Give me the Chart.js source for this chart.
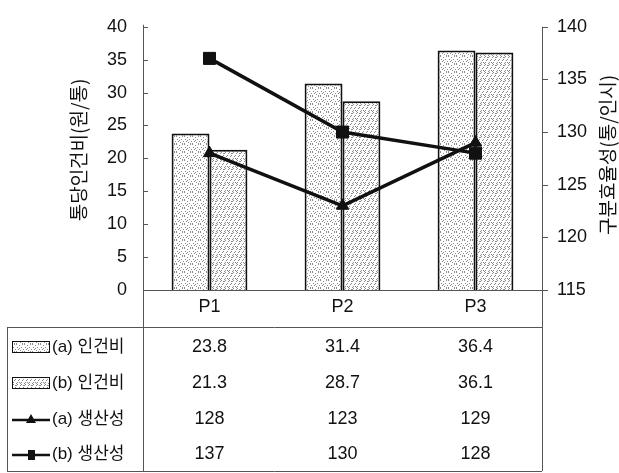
<!DOCTYPE html>
<html>
<head>
<meta charset="utf-8">
<script src="https://cdn.jsdelivr.net/npm/chart.js@4.4.0/dist/chart.umd.min.js"></script>
<style>
  html, body { margin: 0; padding: 0; background: #fff; }
  #wrap { width: 619px; height: 473px; position: relative; }
</style>
</head>
<body>
<div id="wrap"><canvas id="c" width="619" height="473"></canvas></div>
<script>
// ---- data ----
const categories = ['P1', 'P2', 'P3'];
const costA = [23.8, 31.4, 36.4];
const costB = [21.3, 28.7, 36.1];
const prodA = [128, 123, 129];
const prodB = [137, 130, 128];
const seriesLabels = ['(a) 인건비', '(b) 인건비', '(a) 생산성', '(b) 생산성'];
const leftTitle = '통당인건비(원/통)';
const rightTitle = '구분효율성(통/인시)';
const leftRange = [0, 40, 5];
const rightRange = [115, 140, 5];

// ---- fill patterns (deterministic stipple textures) ----
function makePattern(kind) {
  const t = document.createElement('canvas');
  t.width = 8; t.height = 8;
  const g = t.getContext('2d');
  g.fillStyle = '#ffffff';
  g.fillRect(0, 0, 8, 8);
  g.fillStyle = '#8a8a8a';
  let pts;
  if (kind === 'a') {
    pts = [[0,0],[3,1],[6,0],[1,3],[5,3],[2,5],[7,5],[4,6],[0,7],[6,7],[3,4]];
  } else {
    pts = [[1,0],[0,1],[5,0],[4,1],[3,3],[2,4],[7,3],[6,4],[1,6],[0,7],[5,6],[4,7],[7,1],[3,6]];
  }
  pts.forEach(p => g.fillRect(p[0], p[1], 1, 1));
  return g.createPattern(t, 'repeat');
}
const cvs = document.getElementById('c');
const patA = makePattern('a');
const patB = makePattern('b');

const TXT = '#111';
const FONT_NUM = '"Liberation Sans", Arial, sans-serif';
const FONT_KR = '"Liberation Sans", "Noto Sans CJK KR", sans-serif';
const NUM_SIZE = 18;

const tablePlugin = {
  id: 'tablePlugin',
  afterDraw(chart) {
    const ctx = chart.ctx;
    const ca = chart.chartArea;
    const xs = chart.scales.x;
    const yl = chart.scales.y;
    const yr = chart.scales.y2;
    const tableTop = 327, tableBottom = 471, tableLeft = 7;
    ctx.save();
    // frame lines
    ctx.strokeStyle = '#555';
    ctx.lineWidth = 1;
    ctx.beginPath();
    ctx.moveTo(ca.left + 0.5, ca.top - 2); ctx.lineTo(ca.left + 0.5, tableBottom);
    ctx.moveTo(ca.right + 0.5, ca.top); ctx.lineTo(ca.right + 0.5, tableBottom);
    ctx.moveTo(ca.left, ca.bottom + 0.5); ctx.lineTo(ca.right, ca.bottom + 0.5);
    ctx.moveTo(tableLeft, tableTop + 0.5); ctx.lineTo(ca.right, tableTop + 0.5);
    ctx.moveTo(tableLeft + 0.5, tableTop); ctx.lineTo(tableLeft + 0.5, tableBottom);
    ctx.moveTo(tableLeft, tableBottom + 0.5); ctx.lineTo(ca.right, tableBottom + 0.5);
    // tick marks
    for (let v = leftRange[0]; v <= leftRange[1]; v += leftRange[2]) {
      const y = Math.round(yl.getPixelForValue(v)) + 0.5;
      ctx.moveTo(ca.left, y); ctx.lineTo(ca.left + 5, y);
    }
    for (let v = rightRange[0]; v <= rightRange[1]; v += rightRange[2]) {
      const y = Math.round(yr.getPixelForValue(v)) + 0.5;
      ctx.moveTo(ca.right, y); ctx.lineTo(ca.right + 6, y);
    }
    ctx.stroke();

    // axis titles
    ctx.fillStyle = TXT;
    ctx.font = '19px "Noto Sans CJK KR", sans-serif';
    ctx.textAlign = 'center';
    ctx.textBaseline = 'middle';
    ctx.save();
    ctx.translate(79, 150);
    ctx.rotate(-Math.PI / 2);
    ctx.fillText(leftTitle, 0, 0);
    ctx.restore();
    ctx.save();
    ctx.translate(608, 155);
    ctx.rotate(-Math.PI / 2);
    ctx.fillText(rightTitle, 0, 0);
    ctx.restore();

    // table rows
    const rows = [costA, costB, prodA, prodB];
    const rowY = [347, 383, 419, 454];
    ctx.font = NUM_SIZE + 'px ' + FONT_NUM;
    rows.forEach((arr, r) => {
      arr.forEach((v, i) => {
        const x = xs.getPixelForValue(i);
        ctx.fillText(r < 2 ? v.toFixed(1) : String(v), x, rowY[r]);
      });
    });
    // legend column
    ctx.textAlign = 'left';
    ctx.font = '17px ' + FONT_KR;
    rows.forEach((arr, r) => {
      const y = rowY[r];
      if (r < 2) {
        ctx.fillStyle = r === 0 ? patA : patB;
        ctx.fillRect(12, y - 6, 38, 12);
        ctx.strokeStyle = '#111';
        ctx.lineWidth = 1;
        ctx.strokeRect(12.5, y - 5.5, 37, 11);
      } else {
        ctx.strokeStyle = '#111';
        ctx.lineWidth = 2.5;
        ctx.beginPath();
        ctx.moveTo(12, y + 1); ctx.lineTo(50, y + 1);
        ctx.stroke();
        ctx.fillStyle = '#111';
        ctx.beginPath();
        if (r === 2) {
          ctx.moveTo(31, y - 5); ctx.lineTo(36, y + 4); ctx.lineTo(26, y + 4);
        } else {
          ctx.rect(28, y - 4, 7, 10);
        }
        ctx.fill();
      }
      ctx.fillStyle = TXT;
      ctx.fillText(seriesLabels[r], 52, y);
    });
    ctx.restore();
  }
};

new Chart(cvs, {
  data: {
    labels: categories,
    datasets: [
      { type: 'line', label: seriesLabels[2], data: prodA, yAxisID: 'y2', order: 0,
        borderColor: '#111', backgroundColor: '#111', borderWidth: 3.5,
        pointStyle: 'triangle', pointRadius: 7, pointBorderWidth: 1, tension: 0 },
      { type: 'line', label: seriesLabels[3], data: prodB, yAxisID: 'y2', order: 0,
        borderColor: '#111', backgroundColor: '#111', borderWidth: 3.5,
        pointStyle: 'rect', pointRadius: 8.5, pointBorderWidth: 1, tension: 0 },
      { type: 'bar', label: seriesLabels[0], data: costA, yAxisID: 'y', order: 1,
        backgroundColor: patA, borderColor: '#111', borderWidth: 2,
        barPercentage: 1, categoryPercentage: 0.57 },
      { type: 'bar', label: seriesLabels[1], data: costB, yAxisID: 'y', order: 1,
        backgroundColor: patB, borderColor: '#111', borderWidth: 2,
        barPercentage: 1, categoryPercentage: 0.57 }
    ]
  },
  options: {
    responsive: false,
    animation: false,
    devicePixelRatio: 1,
    layout: { padding: { top: 23, left: 0, right: 0, bottom: 0 } },
    plugins: { legend: { display: false }, tooltip: { enabled: false } },
    scales: {
      x: {
        position: 'bottom',
        grid: { display: false, drawTicks: false },
        border: { display: false },
        ticks: { color: TXT, font: { family: FONT_NUM, size: NUM_SIZE }, padding: 6 },
        afterFit(s) { s.height = 183; }
      },
      y: {
        position: 'left',
        min: leftRange[0], max: leftRange[1],
        grid: { display: false, drawTicks: false },
        border: { display: false },
        ticks: { stepSize: leftRange[2], color: TXT, font: { family: FONT_NUM, size: NUM_SIZE }, padding: 16 },
        afterFit(s) { s.width = 143; }
      },
      y2: {
        position: 'right',
        min: rightRange[0], max: rightRange[1],
        grid: { display: false, drawTicks: false },
        border: { display: false },
        ticks: { stepSize: rightRange[2], color: TXT, font: { family: FONT_NUM, size: NUM_SIZE }, padding: 15 },
        afterFit(s) { s.width = 77; }
      }
    }
  },
  plugins: [tablePlugin]
});
</script>
</body>
</html>
